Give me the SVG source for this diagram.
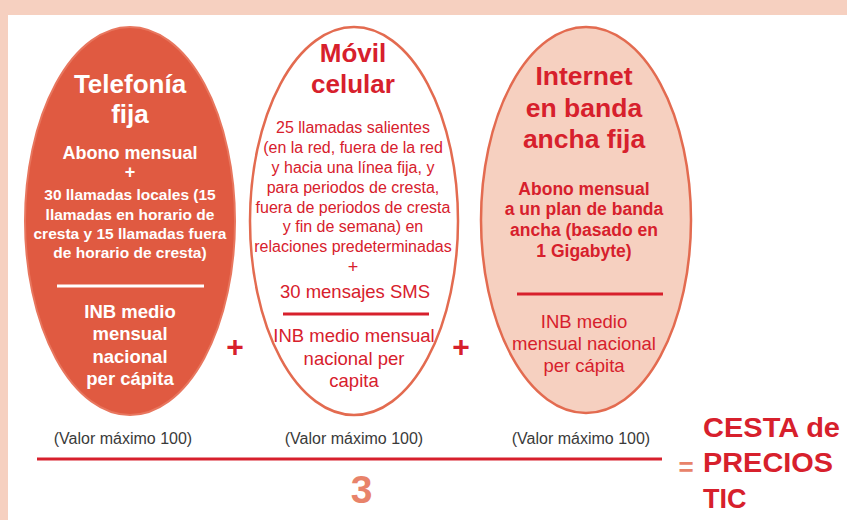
<svg xmlns="http://www.w3.org/2000/svg" width="847" height="520" viewBox="0 0 847 520">
<style>
text{font-family:"Liberation Sans",Arial,sans-serif;text-anchor:middle}
.b{font-weight:bold}
.w{fill:#ffffff}
.r{fill:#d7202c}
.s{fill:#e8836a}
.g{fill:#3a3a3a;font-size:16px}
</style>
<rect x="0" y="0" width="847" height="520" fill="#ffffff"/>
<rect x="0" y="0" width="847" height="15" fill="#f6d0c0"/>
<rect x="0" y="0" width="8" height="520" fill="#f6d0c0"/>

<g id="telefonia-fija">
<ellipse cx="130" cy="221" rx="105" ry="194" fill="#e05a41" stroke="#e8765e" stroke-width="2"/>
<text class="b w" x="130" y="93" font-size="26">Telefonía</text>
<text class="b w" x="130" y="123" font-size="26">fija</text>
<text class="b w" x="130" y="159" font-size="18">Abono mensual</text>
<text class="b w" x="130" y="178" font-size="18">+</text>
<text class="b w" font-size="15.5"><tspan x="130" y="200">30 llamadas locales (15</tspan><tspan x="130" y="220">llamadas en horario de</tspan><tspan x="130" y="239">cresta y 15 llamadas fuera</tspan><tspan x="130" y="258">de horario de cresta)</tspan></text>
<line x1="57" y1="286" x2="204" y2="286" stroke="#ffffff" stroke-width="3"/>
<text class="b w" font-size="18.5"><tspan x="130" y="318">INB medio</tspan><tspan x="130" y="340">mensual</tspan><tspan x="130" y="363">nacional</tspan><tspan x="130" y="385">per cápita</tspan></text>
</g>

<g id="movil-celular">
<ellipse cx="354" cy="221" rx="104" ry="194" fill="#ffffff" stroke="#e36b50" stroke-width="2.5"/>
<text class="b r" x="353" y="62" font-size="26">Móvil</text>
<text class="b r" x="353" y="93" font-size="26">celular</text>
<text class="r" font-size="16"><tspan x="353" y="133">25 llamadas salientes</tspan><tspan x="353" y="153">(en la red, fuera de la red</tspan><tspan x="353" y="173">y hacia una línea fija, y</tspan><tspan x="353" y="193">para periodos de cresta,</tspan><tspan x="353" y="213">fuera de periodos de cresta</tspan><tspan x="353" y="232">y fin de semana) en</tspan><tspan x="353" y="252">relaciones predeterminadas</tspan></text>
<text class="r" x="353" y="273" font-size="18">+</text>
<text class="r" x="355" y="298" font-size="18.5">30 mensajes SMS</text>
<line x1="283" y1="314" x2="429" y2="314" stroke="#d7202c" stroke-width="3"/>
<text class="r" font-size="18.5"><tspan x="354" y="342">INB medio mensual</tspan><tspan x="354" y="365">nacional per</tspan><tspan x="354" y="387">capita</tspan></text>
</g>

<g id="internet-banda-ancha">
<ellipse cx="586" cy="220" rx="105" ry="193" fill="#f6d0c0" stroke="#e36b50" stroke-width="2.5"/>
<text class="b r" x="584" y="85" font-size="26.5">Internet</text>
<text class="b r" x="584" y="117" font-size="26.5">en banda</text>
<text class="b r" x="584" y="148" font-size="26.5">ancha fija</text>
<text class="b r" font-size="17.5"><tspan x="584" y="195">Abono mensual</tspan><tspan x="584" y="215">a un plan de banda</tspan><tspan x="584" y="236">ancha (basado en</tspan><tspan x="584" y="257">1 Gigabyte)</tspan></text>
<line x1="517" y1="294" x2="663" y2="294" stroke="#d7202c" stroke-width="3"/>
<text class="r" font-size="18.5"><tspan x="584" y="328">INB medio</tspan><tspan x="584" y="350">mensual nacional</tspan><tspan x="584" y="372">per cápita</tspan></text>
</g>

<g id="valores">
<text class="g" x="123" y="444">(Valor máximo 100)</text>
<text class="g" x="354" y="444">(Valor máximo 100)</text>
<text class="g" x="581" y="444">(Valor máximo 100)</text>
</g>

<g id="operadores">
<text class="b r" x="235" y="357" font-size="30">+</text>
<text class="b r" x="461" y="357" font-size="30">+</text>
<line x1="37" y1="459" x2="662" y2="459" stroke="#d7202c" stroke-width="3"/>
<text class="b s" x="361.5" y="503" font-size="39">3</text>
<text class="b s" x="686" y="476" font-size="26">=</text>
</g>

<g id="resultado">
<text class="b r" x="703" y="437" font-size="27" style="text-anchor:start" textLength="137" lengthAdjust="spacingAndGlyphs">CESTA de</text>
<text class="b r" x="703" y="472" font-size="27" style="text-anchor:start" textLength="130" lengthAdjust="spacingAndGlyphs">PRECIOS</text>
<text class="b r" x="703" y="508" font-size="27" style="text-anchor:start">TIC</text>
</g>
</svg>
